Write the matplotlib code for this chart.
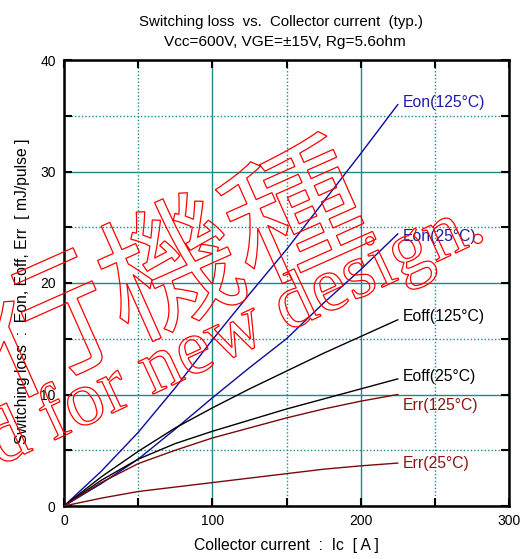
import matplotlib
matplotlib.use("Agg")
import matplotlib.pyplot as plt
import matplotlib.patheffects as pe
from matplotlib.ticker import MultipleLocator

plt.rcParams['font.family'] = ['Liberation Sans', 'DejaVu Sans']

# Collector current [A]
ic = [0, 25, 50, 75, 100, 125, 150, 175, 200, 225]

# Switching losses [mJ/pulse]
eon_125 = [0, 3.1, 6.6, 10.6, 14.9, 19.0, 23.0, 27.3, 31.6, 36.0]
eon_25 = [0, 2.0, 4.2, 6.9, 9.7, 12.4, 15.0, 18.2, 21.2, 24.4]
eoff_125 = [0, 2.6, 4.9, 7.0, 8.8, 10.5, 12.1, 13.7, 15.2, 16.7]
eoff_25 = [0, 2.3, 4.2, 5.6, 6.7, 7.7, 8.7, 9.6, 10.5, 11.4]
err_125 = [0, 2.1, 3.8, 5.0, 6.1, 7.0, 7.9, 8.7, 9.4, 10.0]
err_25 = [0, 0.7, 1.3, 1.7, 2.1, 2.5, 2.9, 3.3, 3.6, 3.85]

labels = ["Eon(125°C)", "Eon(25°C)", "Eoff(125°C)", "Eoff(25°C)", "Err(125°C)", "Err(25°C)"]

BLUE = "#0a0aa0"
BLUE_TXT = "#1c1ca8"
BLACK = "#000000"
RED = "#7a0a0a"
RED_TXT = "#8c1414"
TEAL = "#1a8a8a"

W, H = 523, 559
fig = plt.figure(figsize=(W / 100, H / 100), dpi=100)
ax = fig.add_axes([64 / W, 1 - 506 / H, 445 / W, 446 / H])

series = [
    (eon_125, BLUE, BLUE_TXT, 0.2),
    (eon_25, BLUE, BLUE_TXT, -0.2),
    (eoff_125, BLACK, BLACK, 0.3),
    (eoff_25, BLACK, BLACK, 0.2),
    (err_125, RED, RED_TXT, -1.0),
    (err_25, RED, RED_TXT, 0.0),
]
for (vals, lc, tc, dy), lab in zip(series, labels):
    ax.plot(ic, vals, color=lc, lw=1.0, zorder=3)
    ax.text(ic[-1] + 3.5, vals[-1] + dy, lab, color=tc, fontsize=11.3,
            ha="left", va="center", zorder=4)

ax.set_xlim(0, 300)
ax.set_ylim(0, 40)
ax.xaxis.set_major_locator(MultipleLocator(100))
ax.xaxis.set_minor_locator(MultipleLocator(50))
ax.yaxis.set_major_locator(MultipleLocator(10))
ax.yaxis.set_minor_locator(MultipleLocator(5))
ax.grid(which="major", color=TEAL, lw=1.0, ls="-", zorder=1)
ax.grid(which="minor", color=TEAL, lw=1.0, ls=(0, (1, 1.5)), zorder=1)
ax.set_axisbelow(True)
ax.tick_params(which="both", direction="in", top=True, right=True,
               width=1.5, labelsize=10, colors="black")
ax.tick_params(which="major", length=6, pad=6)
ax.tick_params(which="minor", length=6)
for s in ax.spines.values():
    s.set_linewidth(1.8)

ax.set_xlabel("Collector current  :  Ic  [ A ]", fontsize=11.3, labelpad=7)
ax.set_ylabel("Switching loss  :  Eon, Eoff, Err  [ mJ/pulse ]", fontsize=11.3)
ax.yaxis.set_label_coords(-34 / 445, (506 - 291) / 446)

fig.text(281 / W, 1 - 22 / H, "Switching loss  vs.  Collector current  (typ.)",
         fontsize=10.8, ha="center", va="center")
fig.text(285 / W, 1 - 42 / H, "Vcc=600V, VGE=±15V, Rg=5.6ohm",
         fontsize=11.1, ha="center", va="center")

# Outlined watermark
outline = [pe.PathPatchEffect(edgecolor="red", facecolor="none", linewidth=0.9)]
fig.text(110 / W, 1 - 306 / H, "現行機種", fontsize=99, rotation=24,
         rotation_mode="anchor", ha="center", va="center", color="red",
         family=["Noto Sans CJK JP", "DejaVu Sans"], path_effects=outline, zorder=10)
fig.text(488 / W, 1 - 238 / H, "Not recommended for new design.", fontsize=56,
         rotation=25, rotation_mode="anchor", ha="right", va="baseline", color="red",
         family=["Liberation Serif", "DejaVu Serif"], path_effects=outline, zorder=10)

fig.savefig("out.png", dpi=100)
